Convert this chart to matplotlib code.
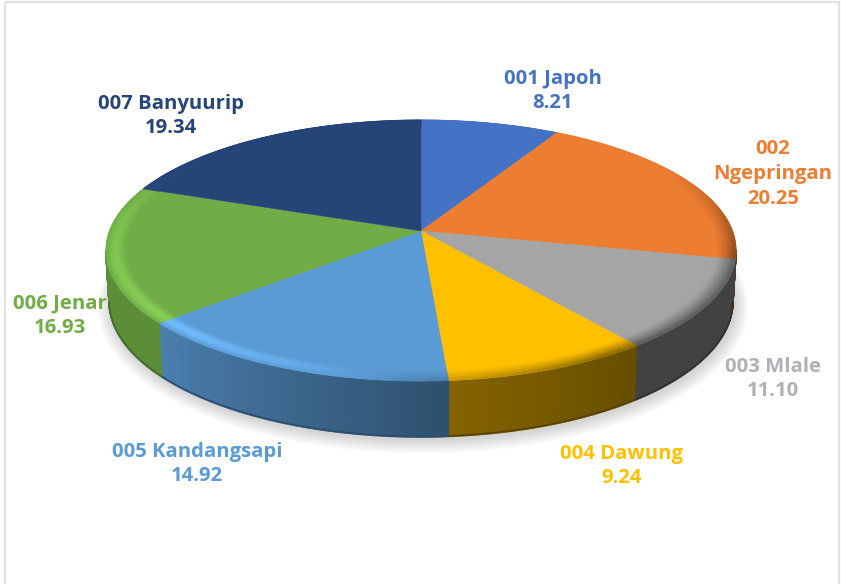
import numpy as np
import matplotlib
matplotlib.use("Agg")
import matplotlib.pyplot as plt
from matplotlib.collections import PolyCollection
from matplotlib.colors import to_rgb
from matplotlib.patches import Polygon, Rectangle

# Data
names = ["001 Japoh", "002\nNgepringan", "003 Mlale", "004 Dawung",
         "005 Kandangsapi", "006 Jenar", "007 Banyuurip"]
values = [8.21, 20.25, 11.10, 9.24, 14.92, 16.93, 19.34]
value_labels = ["8.21", "20.25", "11.10", "9.24", "14.92", "16.93", "19.34"]
colors = ["#4472c4", "#ed7d31", "#a5a5a5", "#ffc000", "#5b9bd5", "#70ad47", "#264478"]
label_colors = ["#4472c4", "#ed7d31", "#b0b0b6", "#ffc000", "#5b9bd5", "#70ad47", "#264478"]

# label centres in pixels
label_x = [553, 773, 773, 622, 197, 60, 171]
label_y = [91, 174, 379, 466, 464, 316, 116]

# Perspective of the pie disc, in pixels
cx, cy = 421, 231
R, S, k = 311.5, 127.6, 0.149


def project(theta, r=1.0):
    w = 1 + k * r * np.cos(theta)
    return cx + R * r * np.sin(theta) / w, cy - S * r * np.cos(theta) / w


def project_bottom(theta):
    x, y = project(theta)
    return cx + 0.99 * (x - cx), y + 50 - 6 * np.cos(theta)


def wall_shade(theta):
    return np.interp(np.degrees(theta), [100, 142, 176, 229, 270], [0.4, 0.4, 0.52, 0.82, 0.82])


def rim_light(theta):
    return np.interp(np.degrees(theta), [0, 60, 100, 150, 183, 200, 225, 270, 300, 360],
                     [0, 0, -0.7, -0.8, -0.3, 0.5, 1.0, 0.6, 0.1, 0])


fig = plt.figure(figsize=(8.41, 5.84), dpi=100)
ax = fig.add_axes([0, 0, 1, 1])
ax.set_xlim(0, 841)
ax.set_ylim(584, 0)
ax.axis("off")

# Chart frame
ax.add_patch(Rectangle((5, 2), 834, 590, fill=False, ec="#e2e2e2", lw=1.6, zorder=0))

# Soft shadow under the disc
t = np.linspace(0, 2 * np.pi, 300)
bx, by = project_bottom(t)
for grow in np.linspace(14, 1, 14):
    sx = cx + 2 + (bx - cx) * (1 + grow / 315)
    sy = 264 + 3 + (by - 264) * (1 + grow / 175)
    ax.add_patch(Polygon(np.c_[sx, sy], fc="#000000", ec="none", alpha=0.012, zorder=1))

edges = np.cumsum([0] + values) / np.sum(values) * 2 * np.pi

wall_polys, wall_cols = [], []
bevel_polys, bevel_cols = [], []
radii = np.linspace(0.94, 1.0, 8)

for i, col in enumerate(colors):
    base = np.array(to_rgb(col))
    n = max(int(np.degrees(edges[i + 1] - edges[i]) * 2), 2)
    th = np.linspace(edges[i], edges[i + 1], n + 1)

    # top face
    x, y = project(th)
    ax.add_patch(Polygon(np.r_[[[cx, cy]], np.c_[x, y]], fc=col, ec=col, lw=0.3, zorder=3))

    for a, b in zip(th[:-1], th[1:]):
        mid = (a + b) / 2
        # side wall, only the part facing the viewer
        if np.cos(mid) < -k:
            x0, y0 = project(np.array([a, b]))
            x1, y1 = project_bottom(np.array([a, b]))
            wall_polys.append([(x0[0], y0[0]), (x0[1], y0[1]), (x1[1], y1[1]), (x1[0], y1[0])])
            wall_cols.append(base * wall_shade(mid))

        # bevel along the rim of the top face
        light = rim_light(mid)
        for r0, r1 in zip(radii[:-1], radii[1:]):
            f = ((r0 + r1) / 2 - radii[0]) / (1 - radii[0])
            if light >= 0:
                c = base + (np.minimum(base * 1.18 + 0.02, 1) - base) * light * np.sin(f * np.pi)
            else:
                c = base + (base * wall_shade(mid) - base) * (-light) * f ** 1.3
            xa, ya = project(np.array([a, b]), r0)
            xb, yb = project(np.array([a, b]), r1)
            bevel_polys.append([(xa[0], ya[0]), (xa[1], ya[1]), (xb[1], yb[1]), (xb[0], yb[0])])
            bevel_cols.append(np.clip(c, 0, 1))

    # darker line along the foot of the wall
    th2 = th[np.cos(th) < -k]
    if len(th2) > 1:
        fx, fy = project_bottom(th2)
        ax.plot(fx, fy - 0.5, color=base * wall_shade(th2.mean()) * 0.75, lw=1.2,
                solid_capstyle="butt", zorder=2.5)

ax.add_collection(PolyCollection(wall_polys, facecolors=wall_cols, edgecolors=wall_cols, lw=1.2, zorder=2))
ax.add_collection(PolyCollection(bevel_polys, facecolors=bevel_cols, edgecolors=bevel_cols, lw=0.6, zorder=4))

# Labels
for name, val, lx, ly, lc in zip(names, value_labels, label_x, label_y, label_colors):
    ax.text(lx, ly, name + "\n" + val, color=lc, ha="center", va="center", family="Open Sans",
            fontweight="bold", fontsize=14.6, linespacing=1.3, zorder=6)

fig.savefig("out.png", dpi=100)
